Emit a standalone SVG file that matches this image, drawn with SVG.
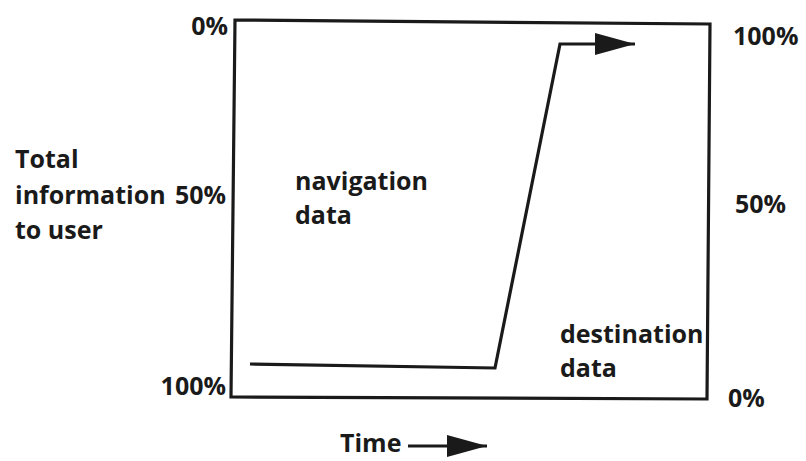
<svg xmlns="http://www.w3.org/2000/svg" width="806" height="461" viewBox="0 0 806 461">
  <style>
    .t { font-family: "Open Sans", "Liberation Sans", sans-serif; font-weight: 700; font-size: 25px; fill: #1a1a1a; }
    .e { text-anchor: end; }
    .ln { fill: none; stroke: #1a1a1a; stroke-width: 3.2; stroke-linejoin: miter; }
  </style>
  <defs>
    <marker id="ah" markerUnits="userSpaceOnUse" markerWidth="42" markerHeight="22" refX="40" refY="11" orient="auto">
      <path d="M0,0 L40,11 L0,22 Z" fill="#1a1a1a"/>
    </marker>
  </defs>
  <rect width="806" height="461" fill="#ffffff"/>
  <g id="frame">
    <path class="ln" d="M235,20 L710,24 L707,399 L231,397 Z"/>
  </g>
  <g id="connectors">
    <path class="ln" d="M250,364 L495,368 L560,44 L635,44" marker-end="url(#ah)"/>
    <path class="ln" d="M408,446 L487,446" marker-end="url(#ah)"/>
  </g>
  <g id="left-axis">
    <text class="t e" x="228" y="35">0%</text>
    <text class="t" x="15" y="168">Total</text>
    <text class="t" x="15" y="204">information</text>
    <text class="t e" x="226" y="204">50%</text>
    <text class="t" x="15" y="239">to user</text>
    <text class="t e" x="226" y="395">100%</text>
  </g>
  <g id="right-axis">
    <text class="t" x="733" y="45">100%</text>
    <text class="t" x="735" y="213">50%</text>
    <text class="t" x="728" y="407">0%</text>
  </g>
  <g id="navigation-data">
    <text class="t" x="295" y="190">navigation</text>
    <text class="t" x="295" y="224">data</text>
  </g>
  <g id="destination-data">
    <text class="t" x="560" y="343">destination</text>
    <text class="t" x="560" y="377">data</text>
  </g>
  <g id="time-axis">
    <text class="t" x="340" y="452">Time</text>
  </g>
</svg>
